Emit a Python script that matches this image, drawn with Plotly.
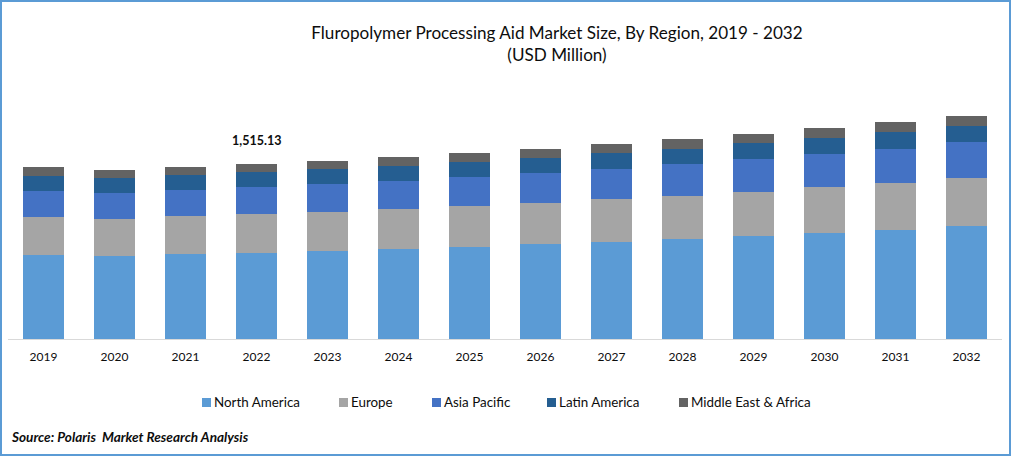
"""
Fluropolymer processing aid market size by region, stacked columns
"""

# imports
from plotly.graph_objects import Bar, Figure

WIDTH = 1011
HEIGHT = 456
FONT = "Lato"
TEXT_COLOR = "#0d0d0d"
FRAME_COLOR = "#5B9BD5"

years = ["2019", "2020", "2021", "2022", "2023", "2024", "2025",
         "2026", "2027", "2028", "2029", "2030", "2031", "2032"]

north_america = [727, 719, 736, 745, 762, 779, 797, 822, 840, 866, 892, 918, 944, 978]
europe = [329, 320, 329, 338, 338, 346, 355, 355, 372, 372, 381, 398, 407, 416]
asia_pacific = [225, 225, 225, 234, 242, 242, 251, 260, 260, 277, 286, 286, 294, 312]
latin_america = [130, 130, 130, 130, 130, 130, 130, 130, 139, 130, 139, 139, 147, 139]
middle_east_africa = [78, 69, 69, 68, 69, 78, 78, 78, 78, 87, 78, 87, 87, 87]

region_names = ["North America", "Europe", "Asia Pacific", "Latin America", "Middle East & Africa"]
region_values = [north_america, europe, asia_pacific, latin_america, middle_east_africa]
region_colors = ["#5B9BD5", "#A5A5A5", "#4472C4", "#255E91", "#636363"]

# left edge of each legend key, in pixels
legend_left = [202, 339, 432, 547, 679]


def px(x):
    """pixel column -> paper x"""
    return (x - 8) / (WIDTH - 8 - 9)


def py(y):
    """pixel row -> paper y"""
    return (339 - y) / (339 - 100)


fig = Figure()

for name, values, color in zip(region_names, region_values, region_colors):
    fig.add_trace(Bar(x=years, y=values, name=name, marker_color=color,
                      marker_line_width=0, showlegend=False))

shapes = [dict(type="rect", xref="paper", yref="paper", x0=px(1), x1=px(1010),
               y0=py(455), y1=py(1), line=dict(color=FRAME_COLOR, width=2), layer="below")]
annotations = []

# legend keys and labels
for name, color, left in zip(region_names, region_colors, legend_left):
    shapes.append(dict(type="rect", xref="paper", yref="paper", x0=px(left), x1=px(left + 9),
                       y0=py(407), y1=py(398), fillcolor=color, line_width=0))
    annotations.append(dict(text=name, xref="paper", yref="paper", x=px(left + 10), y=py(402),
                            xanchor="left", yanchor="middle", showarrow=False,
                            font=dict(size=13.4, color=TEXT_COLOR)))

# the one labelled total, years look like numbers so the category is given by its index
labelled = years.index("2022")
annotations.append(dict(text="<b>1,515.13</b>", x=labelled,
                        y=sum(values[labelled] for values in region_values),
                        yshift=14, yanchor="bottom", showarrow=False,
                        font=dict(size=12.5, color=TEXT_COLOR)))

annotations.append(dict(text="<b><i>Source: Polaris\u00a0 Market Research Analysis</i></b>",
                        xref="paper", yref="paper", x=px(8.5), y=py(437), xanchor="left",
                        yanchor="middle", showarrow=False,
                        font=dict(size=13.6, color=TEXT_COLOR)))

fig.update_layout(
    width=WIDTH, height=HEIGHT,
    margin=dict(l=8, r=9, t=100, b=117, autoexpand=False),
    barmode="stack", bargap=0.41,
    paper_bgcolor="white", plot_bgcolor="white",
    font=dict(family=FONT, color=TEXT_COLOR),
    title=dict(text="Fluropolymer Processing Aid Market Size, By Region, 2019 - 2032<br>(USD Million)",
               x=557 / WIDTH, xanchor="center", y=1 - 39 / HEIGHT, yanchor="top",
               font=dict(size=17.1, color=TEXT_COLOR)),
    xaxis=dict(type="category", range=[-0.5, len(years) - 0.5], showline=True,
               linecolor="#D9D9D9", linewidth=1, ticks="", showgrid=False,
               tickfont=dict(size=12, color=TEXT_COLOR), ticklabelstandoff=7),
    yaxis=dict(range=[0, 2070], visible=False),
    shapes=shapes, annotations=annotations,
)

# the page keeps the browser's default body margin otherwise
fig.write_html("out.html", config={"displayModeBar": False},
               post_script="document.body.style.margin = '0';")
